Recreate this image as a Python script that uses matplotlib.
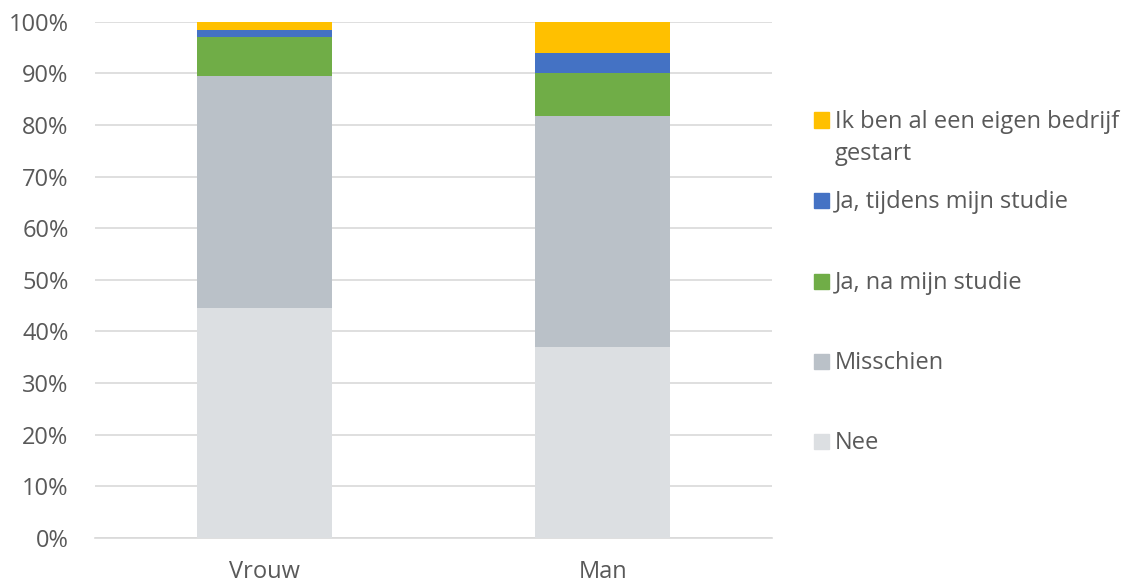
import matplotlib
matplotlib.use("Agg")
import matplotlib.pyplot as plt
from matplotlib.patches import Rectangle
import numpy as np

categories = ["Vrouw", "Man"]
series_names = ["Nee", "Misschien", "Ja, na mijn studie", "Ja, tijdens mijn studie",
                "Ik ben al een eigen bedrijf\ngestart"]
nee = [44.6, 37.0]
misschien = [44.9, 44.7]
ja_na = [7.5, 8.4]
ja_tijdens = [1.4, 3.8]
eigen_bedrijf = [1.6, 6.1]
colors = ["#DCDFE2", "#BAC1C8", "#70AD47", "#4472C4", "#FFC000"]
yticks = [0, 10, 20, 30, 40, 50, 60, 70, 80, 90, 100]

plt.rcParams['font.family'] = ['Open Sans', 'DejaVu Sans']
txt = "#595959"
fs = 17

fig = plt.figure(figsize=(11.3, 5.82), dpi=100)
ax = fig.add_axes([95/1130, 1-537.7/582, (772-95)/1130, (537.7-21.7)/582])

values = [nee, misschien, ja_na, ja_tijdens, eigen_bedrijf]
x = np.arange(len(categories))
bottom = np.zeros(len(categories))
for name, vals, c in zip(series_names, values, colors):
    ax.bar(x, vals, 0.4, bottom=bottom, color=c, label=name, zorder=3)
    bottom += np.array(vals)

ax.set_xlim(-0.5, 1.5)
ax.set_ylim(0, 100)
ax.set_yticks(yticks)
ax.set_yticklabels([f"{v}%" for v in yticks])
ax.set_xticks(x)
ax.set_xticklabels(categories)
ax.grid(axis='y', color="#D9D9D9", linewidth=1.2, zorder=0)
for s in ["top", "right", "left"]:
    ax.spines[s].set_visible(False)
ax.spines["bottom"].set_color("#D9D9D9")
ax.spines["bottom"].set_linewidth(1.2)
ax.tick_params(axis='both', length=0, labelsize=fs, colors=txt)
ax.tick_params(axis='y', pad=19)
ax.tick_params(axis='x', pad=16)

# legend (top to bottom: reversed series order)
leg_y = [120, 200, 281, 361, 441]
for name, c, yy in zip(series_names[::-1], colors[::-1], leg_y):
    fig.patches.append(Rectangle((814/1130, 1-(yy+7.5)/582), 15/1130, 15/582,
                                 transform=fig.transFigure, color=c))
    for i, line in enumerate(name.split('\n')):
        fig.text(835/1130, 1-(yy + 2 + 32*i)/582, line, fontsize=fs, color=txt,
                 va='center', ha='left')

fig.savefig("out.png", dpi=100)
